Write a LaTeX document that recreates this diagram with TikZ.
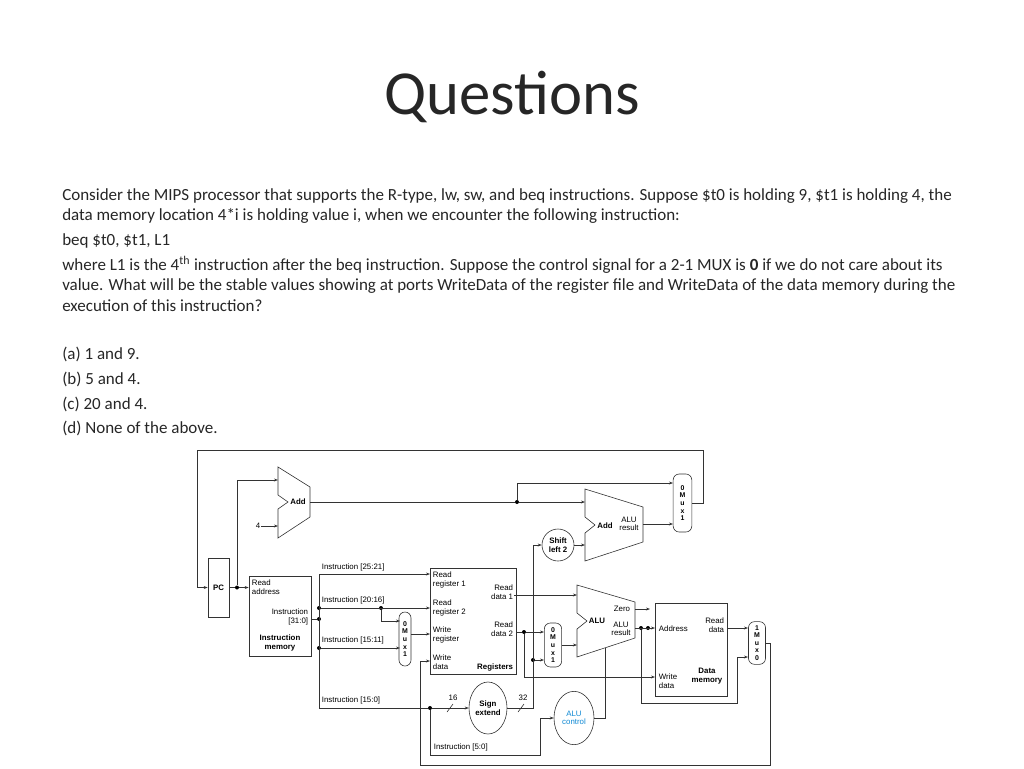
\documentclass[tikz,border=0pt]{standalone}
\usepackage{fontspec}
\setmainfont{Carlito}
\newfontfamily\dfont{Liberation Sans}
\usetikzlibrary{arrows.meta,shapes.geometric}

\tikzset{
  wire/.style={draw=black!80, line width=0.45pt},
  arr/.style={wire, -{Stealth[length=3pt,width=2.2pt]}},
  box/.style={draw=black!80, line width=0.45pt, inner sep=0pt},
  dlbl/.style={font=\dfont\fontsize{5.9}{6.4}\selectfont, inner sep=0.5pt, align=left},
  bold/.style={font=\dfont\bfseries\fontsize{5.9}{6.4}\selectfont},
  muxbox/.style={box, rounded corners=4.5pt, font=\dfont\bfseries\fontsize{5.2}{5.7}\selectfont, align=center},
  oval/.style={box, ellipse, font=\dfont\bfseries\fontsize{5.9}{6.4}\selectfont, align=center},
  dot/.style={circle, fill=black, inner sep=0pt, minimum size=3pt},
  line/.style={anchor=base west, inner sep=0pt, font=\fontsize{12.75}{15}\selectfont, text=black!85}
}

\begin{document}
\begin{tikzpicture}[x=0.75pt, y=-0.75pt]
\useasboundingbox (0,0) rectangle (1024,768);

% slide text
\node[font=\fontsize{47}{52}\selectfont, text=black!85] (title) at (512,97) {Questions};
\node[line] (q1) at (62,200) {Consider the MIPS processor that supports the R-type, lw, sw, and beq instructions. Suppose \$t0 is holding 9, \$t1 is holding 4, the};
\node[line] (q2) at (62,220) {data memory location 4*i is holding value i, when we encounter the following instruction:};
\node[line] (q3) at (62,245) {beq \$t0, \$t1, L1};
\node[line] (q4) at (62,270) {where L1 is the 4\textsuperscript{th} instruction after the beq instruction. Suppose the control signal for a 2-1 MUX is \textbf{0} if we do not care about its};
\node[line] (q5) at (62,290) {value. What will be the stable values showing at ports WriteData of the register file and WriteData of the data memory during the};
\node[line] (q6) at (62,311) {execution of this instruction?};
\node[line] (a1) at (62,359) {(a) 1 and 9.};
\node[line] (a2) at (62,384) {(b) 5 and 4.};
\node[line] (a3) at (62,409) {(c) 20 and 4.};
\node[line] (a4) at (62,433) {(d) None of the above.};

% blocks
\node[box, bold, minimum width=15.75pt, minimum height=44.25pt] (pc) at (218.5,587.5) {PC};
\node[box, minimum width=46.5pt, minimum height=60pt] (imem) at (280,616) {};
\node[box, minimum width=64.5pt, minimum height=79.5pt] (regs) at (473,621) {};
\node[box, minimum width=54pt, minimum height=69.75pt] (dmem) at (691,649.5) {};

\node[muxbox, minimum width=14pt, minimum height=43.5pt] (mux1) at (682.5,503) {0\\M\\u\\x\\1};
\node[muxbox, minimum width=9pt, minimum height=40.5pt] (mux2) at (405,639) {0\\M\\u\\x\\1};
\node[muxbox, minimum width=13pt, minimum height=33pt] (mux4) at (553,645) {0\\M\\u\\x\\1};
\node[muxbox, minimum width=12.75pt, minimum height=32pt] (mux3) at (757,643) {1\\M\\u\\x\\0};

\node[oval, minimum width=28.5pt, minimum height=39pt] (sext) at (488,708) {Sign\\extend};
\node[oval, minimum width=30pt, minimum height=40pt, text=cyan!70!blue] (aluctl) at (574,718) {\mdseries ALU\\\mdseries control};
\node[oval, circle, minimum size=24pt] (shl) at (558,545) {Shift\\left 2};

% adders and ALU
\draw[wire] (278,467) -- (310,487) -- (310,517) -- (278,538) -- (278,509) -- (288,502) -- (278,495) -- cycle;
\draw[wire] (585,489) -- (643,507) -- (643,542) -- (585,561) -- (585,533) -- (595,525) -- (585,517) -- cycle;
\draw[wire] (577,585) -- (635,602) -- (635,638) -- (577,657) -- (577,629) -- (587,621) -- (577,613) -- cycle;
\coordinate (addAout) at (310,502);
\coordinate (addBout) at (643,524);
\coordinate (aluzero) at (635,609);
\coordinate (alures) at (635,628);
\node[dlbl, bold] (addA) at (298,502) {Add};
\node[dlbl, bold] (addB) at (605,526) {Add};
\node[dlbl, align=center] (addBres) at (629,524) {ALU\\result};
\node[dlbl, bold] (alu) at (597,621) {ALU};
\node[dlbl] (zero) at (622,609) {Zero};
\node[dlbl, align=center] (alulbl) at (621,629) {ALU\\result};

% block labels
\node[dlbl, anchor=north west] (ra) at (251,579) {Read\\address};
\node[dlbl, anchor=east, align=right] (i310) at (309,617) {Instruction\\{}[31:0]};
\node[dlbl, bold, align=center] (imlbl) at (280,643) {Instruction\\memory};
\node[dlbl, anchor=west] (rr1) at (432,580) {Read\\register 1};
\node[dlbl, anchor=west] (rr2) at (432,608) {Read\\register 2};
\node[dlbl, anchor=west] (wr) at (432,635) {Write\\register};
\node[dlbl, anchor=west] (wd) at (432,662) {Write\\data};
\node[dlbl, anchor=east, align=right] (rd1) at (514,592) {Read\\data 1};
\node[dlbl, anchor=east, align=right] (rd2) at (514,629) {Read\\data 2};
\node[dlbl, bold, anchor=east] (reglbl) at (514,667) {Registers};
\node[dlbl, anchor=west] (addr) at (658,629) {Address};
\node[dlbl, anchor=east, align=right] (mrd) at (725,625) {Read\\data};
\node[dlbl, anchor=west] (mwd) at (658,681) {Write\\data};
\node[dlbl, bold, align=center] (dmlbl) at (707,676) {Data\\memory};

% instruction fields
\node[dlbl, anchor=south west] at (321,572) {Instruction [25:21]};
\node[dlbl, anchor=south west] at (321,605) {Instruction [20:16]};
\node[dlbl, anchor=south west] at (321,645) {Instruction [15:11]};
\node[dlbl, anchor=south west] at (321,705) {Instruction [15:0]};
\node[dlbl, anchor=south west] at (433,752) {Instruction [5:0]};
\node[dlbl] (four) at (258,526) {4};

% dots
\node[dot] (d1) at (237,587.5) {};
\node[dot] (d2) at (517,502) {};
\node[dot] (d3) at (319,608) {};
\node[dot] (d4) at (319,619) {};
\node[dot] (d5) at (319,648) {};
\node[dot] (d6) at (381,608) {};
\node[dot] (d7) at (430,708) {};
\node[dot] (d8) at (524,632) {};
\node[dot] (d9) at (533,660) {};
\node[dot] (d10) at (641,628) {};
\node[dot] (d11) at (648,628) {};

% connectors
\draw[arr] (mux1.east) -- ++(11,0) |- (197,450) |- (pc.west);
\draw[arr] (pc.east) -- (d1) -- (imem.west |- d1);
\draw[arr] (d1) |- (278,480);
\draw[arr] (four) -- (278,526);
\draw[arr] (addAout) -- (d2) -- (585,502);
\draw[arr] (d2) |- (673,483);
\draw[arr] (addBout) -- (673,524);
\draw[wire] (imem.east |- d4) -- (d4);
\draw[wire] (319,574) -- (319,708);
\draw[arr] (319,574) -- (430,574);
\draw[arr] (d3) -- (430,608);
\draw[arr] (d6) |- (400,621);
\draw[arr] (d5) -- (400,648);
\draw[arr] (mux2.east |- 0,634) -- (430,634);
\draw[arr] (319,708) -- (d7) -- (sext.west);
\draw[wire] (447,712) -- (453,704);
\node[dlbl] at (453,698) {16};
\draw[arr] (sext.east) -- (533,708) |- (shl.west);
\draw[wire] (518,712) -- (524,704);
\node[dlbl] at (523,698) {32};
\draw[arr] (d9) -- (544,660);
\draw[arr] (shl.east) -- (585,545);
\draw[arr] (rd1.east |- 0,595) -- (577,595);
\draw[arr] (516,632) -- (d8) -- (544,632);
\draw[arr] (d8) |- (655,677);
\draw[arr] (mux4.east) -- (577,645);
\draw[arr] (aluzero) -- (650,609);
\draw[arr] (alures) -- (655,628);
\draw[arr] (d10) |- (737,703) |- (748,657);
\draw[arr] (727,628) -- (748,628);
\draw[arr] (mux3.east) -- (770,643) |- (420,765) |- (430,661);
\draw[arr] (d7) |- (540,755) |- (aluctl.west);
\draw[wire] (aluctl.east) -| (605,648);
\end{tikzpicture}
\end{document}
